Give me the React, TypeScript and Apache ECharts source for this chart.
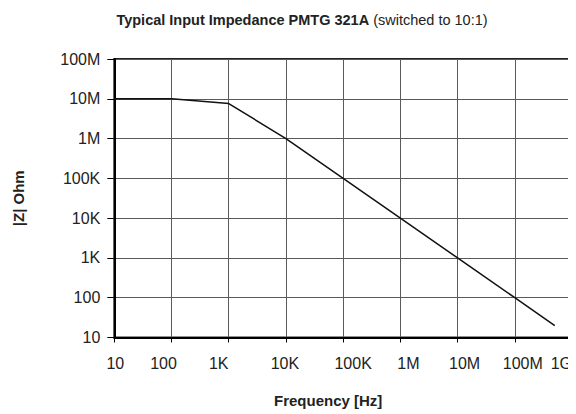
import React, { useEffect, useRef } from "react";
import * as echarts from "echarts";

const xTickLabels = ["10", "100", "1K", "10K", "100K", "1M", "10M", "100M", "1G"];
const yTickLabels = ["10", "100", "1K", "10K", "100K", "1M", "10M", "100M"];
const frequency = [10, 100, 1e3, 1e4, 1e5, 1e6, 1e7, 1e8, 5e8];
const impedance = [1e7, 1e7, 7.6e6, 1e6, 1e5, 1e4, 1e3, 100, 20];

// horizontal nudge (px) of each x tick label, as in the reference (last one is right-aligned)
const xLabelShift = [1, -8, -10, -1, 10, 8, 7, 8, 0];

const FONT = "Liberation Sans, Arial, sans-serif";

export default function App() {
  const ref = useRef<HTMLDivElement>(null);
  useEffect(() => {
    if (!ref.current) return;
    const chart = echarts.init(ref.current, undefined, { renderer: "svg" });
    const rich: Record<string, any> = {};
    xLabelShift.forEach((d, i) => {
      rich["o" + i] = {
        fontFamily: FONT,
        fontSize: 16,
        color: "#222",
        padding: d >= 0 ? [0, 0, 0, 2 * d] : [0, -2 * d, 0, 0],
      };
    });
    chart.setOption({
      animation: false,
      backgroundColor: "#fff",
      title: {
        text: "{b|Typical Input Impedance PMTG 321A} {n|(switched to 10:1)}",
        left: 297,
        textAlign: "center",
        top: 7,
        textStyle: {
          fontSize: 14.5,
          fontFamily: FONT,
          rich: {
            b: { fontFamily: FONT, fontSize: 14.5, fontWeight: "bold", color: "#222" },
            n: { fontFamily: FONT, fontSize: 14.5, fontWeight: "normal", color: "#222" },
          },
        },
      },
      grid: {
        left: 114.3,
        right: 4,
        top: 59,
        bottom: 76.5,
        show: true,
        borderColor: "#222",
        borderWidth: 2,
        backgroundColor: "transparent",
      },
      xAxis: {
        type: "log",
        logBase: 10,
        min: 10,
        max: 1e9,
        interval: 1,
        name: "Frequency [Hz]",
        nameLocation: "middle",
        nameGap: 55,
        nameTextStyle: {
          fontFamily: FONT,
          fontSize: 15,
          fontWeight: "bold",
          color: "#222",
          padding: [0, 30, 0, 0],
        },
        axisLine: { show: true, onZero: false, lineStyle: { color: "#000", width: 2 } },
        axisTick: { show: true, length: 5, lineStyle: { color: "#000", width: 1 } },
        axisLabel: {
          fontFamily: FONT,
          fontSize: 16,
          color: "#222",
          margin: 18,
          showMinLabel: true,
          showMaxLabel: true,
          hideOverlap: false,
          alignMaxLabel: "right",
          formatter: (v: number) => {
            const i = Math.round(Math.log10(v)) - 1;
            return xTickLabels[i] !== undefined ? `{o${i}|${xTickLabels[i]}}` : "";
          },
          rich,
        },
        splitLine: { show: true, lineStyle: { color: "#5a5a5a", width: 1 } },
      },
      yAxis: {
        type: "log",
        logBase: 10,
        min: 10,
        max: 1e8,
        interval: 1,
        name: "|Z| Ohm",
        nameLocation: "middle",
        nameRotate: 90,
        nameGap: 88.5,
        nameTextStyle: { fontFamily: FONT, fontSize: 15, fontWeight: "bold", color: "#222" },
        axisLine: { show: true, onZero: false, lineStyle: { color: "#000", width: 2 } },
        axisTick: { show: true, length: 7, lineStyle: { color: "#000", width: 1 } },
        axisLabel: {
          fontFamily: FONT,
          fontSize: 16,
          color: "#222",
          margin: 14,
          formatter: (v: number) => yTickLabels[Math.round(Math.log10(v)) - 1] ?? "",
        },
        splitLine: { show: true, lineStyle: { color: "#5a5a5a", width: 1 } },
      },
      series: [
        {
          type: "line",
          data: frequency.map((f, i) => [f, impedance[i]]),
          symbol: "none",
          lineStyle: { color: "#111", width: 1.5 },
        },
      ],
    });
    return () => chart.dispose();
  }, []);
  return <div ref={ref} style={{ width: 576, height: 414, marginLeft: -8, marginTop: -8 }} />;
}
